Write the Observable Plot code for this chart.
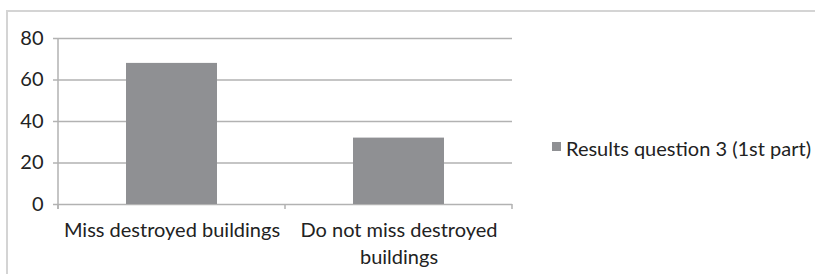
<!DOCTYPE html>
<html>
<head>
<meta charset="utf-8">
<script src="https://cdn.jsdelivr.net/npm/d3@7"></script>
<script src="https://cdn.jsdelivr.net/npm/@observablehq/plot@0.6"></script>
<style>
  html, body { margin: 0; padding: 0; background: #fff; }
  #wrap { position: relative; width: 815px; height: 274px; overflow: hidden; font-family: Lato, "Open Sans", sans-serif; }
  #frame { position: absolute; left: 6px; top: 10px; width: 900px; height: 400px; border-left: 2px solid #d4d4d4; border-top: 2px solid #d4d4d4; }
  #chart { position: absolute; left: 0; top: 0; }
  #legend { position: absolute; left: 552px; top: 136px; font-size: 20px; color: #222; white-space: nowrap; display: flex; align-items: center; }
  #legend .sw { width: 9px; height: 9px; background: #8f9093; margin-right: 5px; margin-top: -3px; }
</style>
</head>
<body>
<div id="wrap">
  <div id="frame"></div>
  <div id="chart"></div>
  <div id="legend"><span class="sw"></span><span id="legendText"></span></div>
</div>
<script>
const categories = ["Miss destroyed buildings", "Do not miss destroyed buildings"];
const values = [68, 32];
const tickLabels = ["Miss destroyed buildings", "Do not miss destroyed\nbuildings"];
const yTicks = [0, 20, 40, 60, 80];
const seriesName = "Results question 3 (1st part)";

const data = categories.map((c, i) => ({category: c, value: values[i]}));
const labelOf = new Map(categories.map((c, i) => [c, tickLabels[i]]));

const gridColor = "#b2b2b2";

function boundaryTicks(index, scales, vals, dimensions) {
  const x = scales.x, y = scales.y;
  const step = x.step ? x.step() : (x(categories[1]) - x(categories[0]));
  const bw = x.bandwidth ? x.bandwidth() : 0;
  const g = d3.create("svg:g");
  const y0 = y(0);
  const bounds = [];
  categories.forEach((c, i) => {
    const center = x(c) + bw / 2;
    if (i === 0) bounds.push(center - step / 2);
    bounds.push(center + step / 2);
  });
  g.append("line")
    .attr("x1", bounds[0]).attr("x2", bounds[0])
    .attr("y1", y(d3.max(yTicks))).attr("y2", y0 + 5)
    .attr("stroke", gridColor).attr("stroke-width", 1.5);
  bounds.forEach(b => {
    g.append("line")
      .attr("x1", b).attr("x2", b)
      .attr("y1", y0).attr("y2", y0 + 5)
      .attr("stroke", gridColor).attr("stroke-width", 1.5);
  });
  return g.node();
}

const plot = Plot.plot({
  width: 815,
  height: 274,
  marginLeft: 58,
  marginRight: 303,
  marginTop: 38,
  marginBottom: 70,
  style: {fontFamily: "Lato, 'Open Sans', sans-serif", fontSize: "20px", color: "#222", background: "transparent", overflow: "visible"},
  x: {domain: categories, paddingInner: 0.6, paddingOuter: 0.3},
  y: {domain: [0, 80]},
  marks: [
    Plot.gridY(yTicks, {stroke: gridColor, strokeOpacity: 1, strokeWidth: 1.5}),
    Plot.barY(data, {x: "category", y: "value", fill: "#8f9093"}),
    Plot.axisY(yTicks, {tickSize: 5, tickPadding: 10, stroke: gridColor, strokeOpacity: 1, strokeWidth: 1.5, fill: "#222", fontSize: 20, label: null}),
    Plot.axisX({tickSize: 0, tickPadding: 13, tickFormat: d => labelOf.get(d), fill: "#222", fontSize: 20, lineHeight: 1.35, label: null}),
    boundaryTicks
  ]
});
document.getElementById("chart").appendChild(plot);
document.getElementById("legendText").textContent = seriesName;
</script>
</body>
</html>
